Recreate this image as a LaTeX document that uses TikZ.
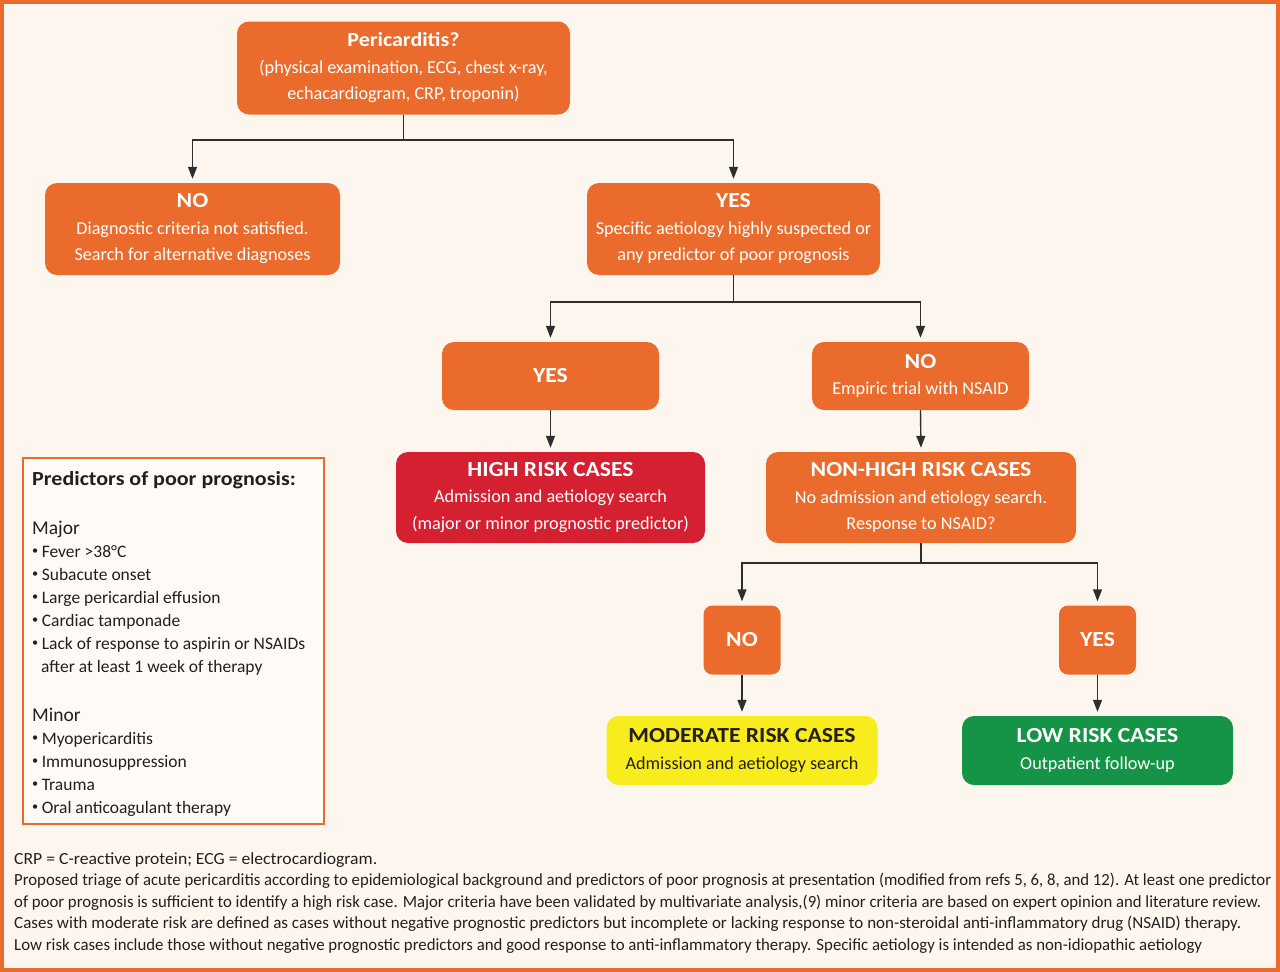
\documentclass[tikz,border=0pt]{standalone}
\usepackage{fontspec}
\usepackage{graphicx}
\setmainfont{Carlito}
\newfontfamily\ttlfont[FakeStretch=1.1]{Carlito}
\usetikzlibrary{arrows.meta}
\definecolor{bg}{HTML}{FDF6EE}
\definecolor{org}{HTML}{EA6B2B}
\definecolor{rd}{HTML}{D42030}
\definecolor{yl}{HTML}{F8EC1C}
\definecolor{gr}{HTML}{159447}
\definecolor{ln}{HTML}{2E2E2E}
\definecolor{tx}{HTML}{231F20}
\newcommand\boxttl[1]{{\ttlfont\bfseries\fontsize{21.5}{26.5}\selectfont #1}}
\newcommand\smbul{\raisebox{0.28ex}{\scalebox{0.7}{\textbullet}}\hspace{0.2em}}
\newcommand\capline[2]{\resizebox{#1pt}{\height}{#2}}
\begin{document}
\begin{tikzpicture}[x=1pt,y=-1pt,
  box/.style={rounded corners=12pt,fill=org,text=white,align=center,inner sep=0pt,
    font=\fontsize{18.2}{26.5}\selectfont},
  conn/.style={draw=ln,line width=1.4pt},
  arr/.style={conn,-{Triangle[length=12pt,width=9pt]},shorten >=4pt},
  captxt/.style={anchor=base west,inner sep=0pt,text=tx,font=\fontsize{17}{20}\selectfont},
  pl/.style={anchor=base west,inner sep=0pt,text=tx,font=\fontsize{17.5}{23}\selectfont}
]
\useasboundingbox (0,0) rectangle (1280,972);
\fill[bg] (0,0) rectangle (1280,972);
\draw[org,line width=4pt] (2,2) rectangle (1278,970);

% nodes
\node[box,minimum width=333pt,minimum height=93pt] (top) at (403.5,68)
  {{\ttlfont\bfseries\fontsize{20}{26.5}\selectfont Pericarditis?}\\(physical examination, ECG, chest x-ray,\\echacardiogram, CRP, troponin)};
\node[box,minimum width=295pt,minimum height=92pt] (no1) at (192.5,229)
  {\boxttl{NO}\\Diagnostic criteria not satisfied.\\Search for alternative diagnoses};
\node[box,minimum width=293pt,minimum height=92pt] (yes1) at (733.5,229)
  {\boxttl{YES}\\Specific aetiology highly suspected or\\any predictor of poor prognosis};
\node[box,minimum width=217pt,minimum height=68pt] (yes2) at (550.5,376)
  {\boxttl{YES}};
\node[box,minimum width=217pt,minimum height=68pt] (no2) at (920.5,376)
  {\boxttl{NO}\\Empiric trial with NSAID};
\node[box,fill=rd,minimum width=309pt,minimum height=91pt] (high) at (550.5,497.5)
  {\boxttl{HIGH RISK CASES}\\Admission and aetiology search\\(major or minor prognostic predictor)};
\node[box,minimum width=310pt,minimum height=91pt] (nonhigh) at (921,497.5)
  {\boxttl{NON-HIGH RISK CASES}\\No admission and etiology search.\\Response to NSAID?};
\node[box,rounded corners=9pt,minimum width=77pt,minimum height=69pt] (no3) at (742,640)
  {\boxttl{NO}};
\node[box,rounded corners=9pt,minimum width=77pt,minimum height=69pt] (yes3) at (1097.5,640)
  {\boxttl{YES}};
\node[box,fill=yl,text=tx,minimum width=271pt,minimum height=69pt] (mod) at (742,750.5)
  {\boxttl{MODERATE RISK CASES}\\Admission and aetiology search};
\node[box,fill=gr,minimum width=271pt,minimum height=69pt] (low) at (1097.5,750.5)
  {\boxttl{LOW RISK CASES}\\Outpatient follow-up};

% connectors
\coordinate (j1) at (403.5,140);
\coordinate (j2) at (733.5,302);
\coordinate (j3) at (921,563);
\draw[conn] (top.south) -- (j1);
\draw[arr] (j1) -| (no1.north);
\draw[arr] (j1) -| (yes1.north);
\draw[conn] (yes1.south) -- (j2);
\draw[arr] (j2) -| (yes2.north);
\draw[arr] (j2) -| (no2.north);
\draw[arr] (yes2.south) -- (high.north);
\draw[arr] (no2.south) -- (nonhigh.north);
\draw[conn] (nonhigh.south) -- (j3);
\draw[arr] (j3) -| (no3.north);
\draw[arr] (j3) -| (yes3.north);
\draw[arr] (no3.south) -- (mod.north);
\draw[arr] (yes3.south) -- (low.north);

% predictors box
\node[draw=org,line width=1.2pt,fill=bg!60!white,minimum width=301pt,minimum height=366pt,inner sep=0pt] (pred) at (173.5,641) {};
\node[anchor=base west,inner sep=0pt,text=tx,font=\ttlfont\bfseries\fontsize{20}{23}\selectfont] (pt) at (32,485) {Predictors of poor prognosis:};
\node[pl,font=\fontsize{19.5}{23}\selectfont] (pmaj) at (32,534) {Major};
\node[pl] (p1) at (32,557) {\smbul Fever >38°C};
\node[pl] (p2) at (32,580) {\smbul Subacute onset};
\node[pl] (p3) at (32,603) {\smbul Large pericardial effusion};
\node[pl] (p4) at (32,626) {\smbul Cardiac tamponade};
\node[pl] (p5) at (32,649) {\smbul Lack of response to aspirin or NSAIDs};
\node[pl] (p6) at (41,672) {after at least 1 week of therapy};
\node[pl,font=\fontsize{19.5}{23}\selectfont] (pmin) at (32,721) {Minor};
\node[pl] (m1) at (32,744) {\smbul Myopericarditis};
\node[pl] (m2) at (32,767) {\smbul Immunosuppression};
\node[pl] (m3) at (32,790) {\smbul Trauma};
\node[pl] (m4) at (32,813) {\smbul Oral anticoagulant therapy};

% caption
\node[captxt] (c1) at (14,864) {\capline{363}{CRP = C-reactive protein; ECG = electrocardiogram.}};
\node[captxt] (c2) at (14,885.6) {\capline{1257}{Proposed triage of acute pericarditis according to epidemiological background and predictors of poor prognosis at presentation (modified from refs 5, 6, 8, and 12). At least one predictor}};
\node[captxt] (c3) at (14,907.2) {\capline{1247}{of poor prognosis is sufficient to identify a high risk case. Major criteria have been validated by multivariate analysis,(9) minor criteria are based on expert opinion and literature review.}};
\node[captxt] (c4) at (14,928.8) {\capline{1227}{Cases with moderate risk are defined as cases without negative prognostic predictors but incomplete or lacking response to non-steroidal anti-inflammatory drug (NSAID) therapy.}};
\node[captxt] (c5) at (14,950.4) {\capline{1188}{Low risk cases include those without negative prognostic predictors and good response to anti-inflammatory therapy. Specific aetiology is intended as non-idiopathic aetiology}};
\end{tikzpicture}
\end{document}
